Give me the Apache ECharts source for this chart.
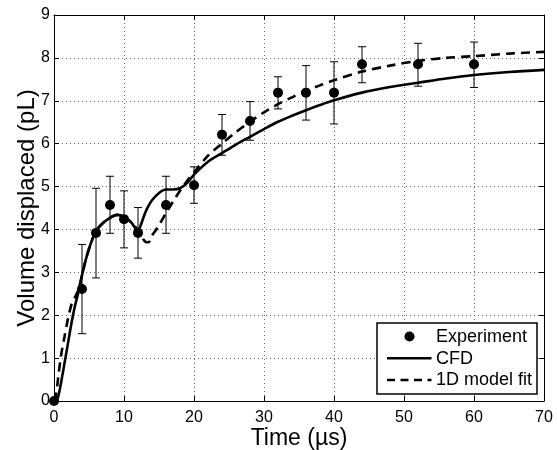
<!DOCTYPE html>
<html>
<head>
<meta charset="utf-8">
<script src="https://cdn.jsdelivr.net/npm/echarts@6/dist/echarts.min.js"></script>
<style>
html,body{margin:0;padding:0;background:#fff;}
#chart{width:557px;height:450px;}
</style>
</head>
<body>
<div id="chart"></div>
<script>
// Experiment data
var expX  = [0, 4, 6, 8, 10, 12, 16, 20, 24, 28, 32, 36, 40, 44, 52, 60];
var expY  = [0, 2.61, 3.92, 4.57, 4.24, 3.92, 4.57, 5.03, 6.21, 6.53, 7.19, 7.19, 7.19, 7.85, 7.85, 7.85];
var expLo = [null, 1.57, 2.87, 3.91, 3.57, 3.33, 3.91, 4.61, 5.73, 6.08, 6.81, 6.55, 6.46, 7.42, 7.34, 7.31];
var expHi = [null, 3.65, 4.96, 5.24, 4.90, 4.51, 5.24, 5.46, 6.68, 6.98, 7.56, 7.82, 7.91, 8.26, 8.34, 8.37];

// CFD curve
var cfdX = [0, 0.5, 1, 1.5, 2, 2.5, 3, 3.5, 4, 4.5, 5, 5.5, 6, 7, 8, 9, 10, 11, 12, 12.5, 13, 13.5, 14, 15, 16, 17, 18, 19, 20, 22, 24, 26, 28, 30, 32, 34, 36, 38, 40, 44, 48, 52, 56, 60, 65, 70];
var cfdY = [0, 0.05, 0.42, 0.88, 1.35, 1.82, 2.22, 2.55, 2.93, 3.27, 3.55, 3.78, 3.97, 4.15, 4.27, 4.34, 4.3, 4.17, 3.97, 4.15, 4.38, 4.55, 4.68, 4.85, 4.93, 4.93, 4.96, 5.08, 5.28, 5.58, 5.78, 5.98, 6.16, 6.34, 6.51, 6.65, 6.78, 6.9, 7.01, 7.19, 7.32, 7.42, 7.52, 7.6, 7.67, 7.72];

// 1D model fit curve
var modX = [0, 0.3, 0.6, 1, 1.5, 2, 2.5, 3, 3.5, 4, 4.5, 5, 5.5, 6, 7, 8, 9, 10, 11, 11.5, 12, 12.5, 13, 13.5, 14, 14.5, 15, 16, 17, 18, 19, 20, 22, 24, 26, 28, 30, 32, 34, 36, 38, 40, 44, 48, 52, 56, 60, 65, 70];
var modY = [0, 0.15, 0.55, 1.05, 1.5, 1.92, 2.25, 2.42, 2.6, 2.93, 3.27, 3.55, 3.78, 3.97, 4.15, 4.27, 4.34, 4.3, 4.17, 4.08, 3.99, 3.84, 3.72, 3.7, 3.86, 3.97, 4.1, 4.38, 4.65, 4.9, 5.13, 5.33, 5.72, 6.0, 6.27, 6.51, 6.73, 6.92, 7.08, 7.23, 7.36, 7.48, 7.68, 7.82, 7.93, 8.0, 8.04, 8.1, 8.14];

var seriesNames = ['Experiment', 'CFD', '1D model fit'];
var xTicks = {min: 0, max: 70, interval: 10};
var yTicks = {min: 0, max: 9, interval: 1};
var xTitle = 'Time (\u00b5s)';
var yTitle = 'Volume displaced (pL)';

function zip(a, b) { return a.map(function (v, i) { return [v, b[i]]; }); }

var errData = [];
for (var i = 0; i < expX.length; i++) {
  if (expLo[i] !== null) errData.push([expX[i], expLo[i], expHi[i]]);
}

var FONT = '"Liberation Sans", Arial, sans-serif';
var chart = echarts.init(document.getElementById('chart'));

// legend drawn as graphic (real text)
var LX = 377, LY = 323, LW = 160, LH = 71;
var rowY = [LY + 13.5, LY + 35.3, LY + 57];
var legendGraphic = [
  {type: 'rect', shape: {x: LX, y: LY, width: LW, height: LH},
   style: {fill: '#fff', stroke: '#000', lineWidth: 1.5}, z: 100},
  {type: 'circle', shape: {cx: LX + 32.5, cy: rowY[0], r: 5},
   style: {fill: '#000'}, z: 101},
  {type: 'line', shape: {x1: LX + 10, y1: rowY[1], x2: LX + 54.5, y2: rowY[1]},
   style: {stroke: '#000', lineWidth: 2.6}, z: 101},
  {type: 'line', shape: {x1: LX + 10, y1: rowY[2], x2: LX + 54.5, y2: rowY[2]},
   style: {stroke: '#000', lineWidth: 2.6, lineDash: [8, 5.5]}, z: 101}
];
seriesNames.forEach(function (n, k) {
  legendGraphic.push({type: 'text', x: LX + 59, y: rowY[k] + 0.5, z: 101,
    style: {text: n, font: '18px ' + FONT, fill: '#000', verticalAlign: 'middle', align: 'left'}});
});

var option = {
  backgroundColor: '#fff',
  animation: false,
  textStyle: {fontFamily: FONT},
  grid: {left: 54, right: 13, top: 15, bottom: 49, containLabel: false, outerBoundsMode: 'none'},
  graphic: legendGraphic,
  xAxis: [{
    type: 'value', position: 'bottom',
    min: xTicks.min, max: xTicks.max, interval: xTicks.interval,
    name: xTitle, nameLocation: 'middle', nameGap: 26, nameMoveOverlap: false,
    nameTextStyle: {fontFamily: FONT, fontSize: 23, color: '#000'},
    axisLine: {onZero: false, lineStyle: {color: '#000', width: 1}},
    axisTick: {inside: true, length: 5, lineStyle: {color: '#000'}},
    axisLabel: {fontFamily: FONT, fontSize: 16, color: '#000', margin: 9},
    splitLine: {show: true, lineStyle: {color: '#666', type: [1, 3], width: 1}}
  }, {
    type: 'value', position: 'top',
    min: xTicks.min, max: xTicks.max, interval: xTicks.interval,
    axisLine: {onZero: false, lineStyle: {color: '#000', width: 1}},
    axisTick: {inside: true, length: 5, lineStyle: {color: '#000'}},
    axisLabel: {show: false},
    splitLine: {show: false}
  }],
  yAxis: [{
    type: 'value', position: 'left',
    min: yTicks.min, max: yTicks.max, interval: yTicks.interval,
    name: yTitle, nameLocation: 'middle', nameGap: 15, nameMoveOverlap: false,
    nameTextStyle: {fontFamily: FONT, fontSize: 24, color: '#000'},
    axisLine: {onZero: false, lineStyle: {color: '#000', width: 1}},
    axisTick: {inside: true, length: 5, lineStyle: {color: '#000'}},
    axisLabel: {fontFamily: FONT, fontSize: 16, color: '#000', margin: 4},
    splitLine: {show: true, lineStyle: {color: '#666', type: [1, 3], width: 1}}
  }, {
    type: 'value', position: 'right',
    min: yTicks.min, max: yTicks.max, interval: yTicks.interval,
    axisLine: {onZero: false, lineStyle: {color: '#000', width: 1}},
    axisTick: {inside: true, length: 5, lineStyle: {color: '#000'}},
    axisLabel: {show: false},
    splitLine: {show: false}
  }],
  series: [{
    name: seriesNames[1], type: 'line', smooth: 0.3, symbol: 'none',
    data: zip(cfdX, cfdY),
    lineStyle: {color: '#000', width: 2.6},
    itemStyle: {color: '#000'},
    z: 3
  }, {
    name: seriesNames[2], type: 'line', smooth: 0.3, symbol: 'none',
    data: zip(modX, modY),
    lineStyle: {color: '#000', width: 2.6, type: [9, 6]},
    itemStyle: {color: '#000'},
    z: 3
  }, {
    name: 'errorbars', type: 'custom',
    data: errData,
    renderItem: function (params, api) {
      var x = api.value(0);
      var lo = api.coord([x, api.value(1)]);
      var hi = api.coord([x, api.value(2)]);
      var hw = 4;
      var st = {stroke: '#000', lineWidth: 1};
      return {
        type: 'group',
        children: [
          {type: 'line', shape: {x1: lo[0], y1: lo[1], x2: hi[0], y2: hi[1]}, style: st},
          {type: 'line', shape: {x1: lo[0] - hw, y1: lo[1], x2: lo[0] + hw, y2: lo[1]}, style: st},
          {type: 'line', shape: {x1: hi[0] - hw, y1: hi[1], x2: hi[0] + hw, y2: hi[1]}, style: st}
        ]
      };
    },
    z: 4
  }, {
    name: seriesNames[0], type: 'scatter', symbol: 'circle', symbolSize: 10,
    data: zip(expX, expY),
    itemStyle: {color: '#000', opacity: 1},
    z: 5
  }]
};
chart.setOption(option);
</script>
</body>
</html>
